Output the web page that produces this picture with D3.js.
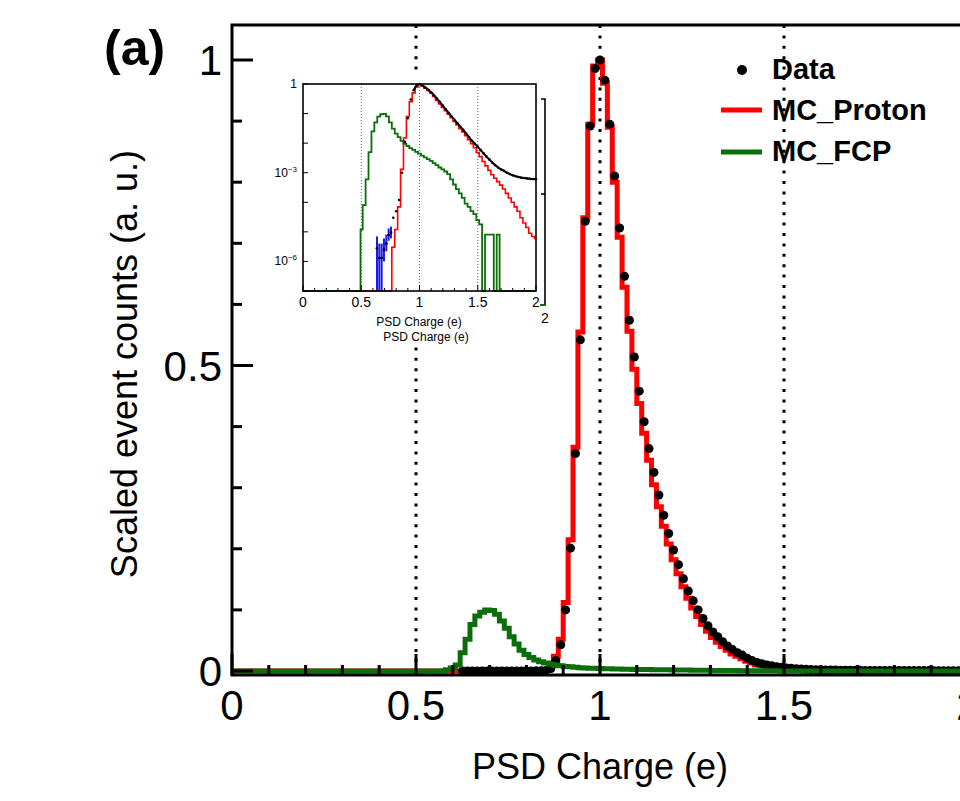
<!DOCTYPE html>
<html lang="en">
  <head>
    <meta charset="UTF-8" />
    <script src="https://d3js.org/d3.v7.min.js"></script>
    <title>PSD Charge</title>
    <style>
      body { margin: 0; background: #fff; }
      text { font-family: "Liberation Sans", Arial, Helvetica, sans-serif; }
    </style>
  </head>
  <body>
    <script>
      // main histogram: 150 bins over 0-2, one centred on charge 1.0
      const binWidth = 0.04 / 3;
      const firstCenter = 1 - 32 * binWidth;

      const mainData = [
        null, null, null, null, 0.00002, 0.00001, 0.00001, 0.00002, 0.00003, 0.00003,
        0.00004, 0.00006, 0.00008, 0.0001, 0.0001, 0.0001, 0.00012, 0.00015, 0.0002, 0.0003,
        0.0005, 0.001, 0.004, 0.017, 0.043, 0.100, 0.201, 0.356, 0.542, 0.736,
        0.892, 0.986, 1.000, 0.967, 0.895, 0.810, 0.725, 0.646, 0.574, 0.514,
        0.458, 0.408, 0.364, 0.325, 0.288, 0.255, 0.225, 0.198, 0.174, 0.151,
        0.131, 0.115, 0.100, 0.086, 0.074, 0.064, 0.056, 0.048, 0.041, 0.035,
        0.030, 0.026, 0.021, 0.017, 0.014, 0.012, 0.010, 0.0085, 0.007, 0.006,
        0.0050, 0.0043, 0.0037, 0.0032, 0.0028, 0.0025, 0.0022, 0.0020, 0.0018, 0.0016,
        0.0015, 0.0014, 0.0013, 0.0012, 0.0011, 0.0011, 0.0010, 0.0010, 0.0009, 0.0009,
        0.0009, 0.0008, 0.0008, 0.0008, 0.0008, 0.0007, 0.0007, 0.0007, 0.0007, 0.0007,
        0.0006, 0.0006, 0.0006, 0.0006, 0.0006, 0.0006, 0.0006, 0.0006
      ];

      const mainRed = [
        0, 0, 0, 0, 0, 0, 0, 0, 0, 0,
        0, 0, 0, 0, 0, 0, 0, 0, 0, 0,
        0, 0.002, 0.010, 0.024, 0.052, 0.112, 0.215, 0.366, 0.555, 0.742,
        0.895, 0.990, 1.000, 0.962, 0.890, 0.800, 0.710, 0.628, 0.556, 0.494,
        0.438, 0.389, 0.345, 0.305, 0.269, 0.237, 0.208, 0.182, 0.159, 0.138,
        0.119, 0.103, 0.089, 0.076, 0.065, 0.055, 0.047, 0.040, 0.034, 0.028,
        0.024, 0.020, 0.016, 0.013, 0.010, 0.0085, 0.007, 0.0057, 0.0046, 0.0037,
        0.0030, 0.0024, 0.0019, 0.0015, 0.0012, 0.0010, 0.0008, 0.0006, 0.0005, 0.0004,
        0.0003, 0.0003, 0.0002, 0.0002, 0.0001, 0.0001, 0.0001, 0.0001, 0.00005, 0.00005,
        0, 0, 0, 0, 0, 0, 0, 0, 0, 0,
        0, 0, 0, 0, 0, 0, 0, 0
      ];

      const mainGreen = [
        0, 0.002, 0.005, 0.010, 0.030, 0.052, 0.076, 0.090, 0.096, 0.100,
        0.099, 0.093, 0.082, 0.070, 0.056, 0.044, 0.034, 0.027, 0.022, 0.018,
        0.015, 0.013, 0.011, 0.0095, 0.0085, 0.0075, 0.0068, 0.006, 0.0055, 0.005,
        0.0046, 0.0043, 0.0040, 0.0037, 0.0035, 0.0033, 0.0031, 0.0029, 0.0027, 0.0026,
        0.0025, 0.0024, 0.0023, 0.0022, 0.0021, 0.0020, 0.0019, 0.0018, 0.0017, 0.0016,
        0.0015, 0.0014, 0.0013, 0.0012, 0.0011, 0.0010, 0.0009, 0.0009, 0.0008, 0.0008,
        0.0007, 0.0006, 0.0006, 0.0005, 0.0005, 0.0004, 0.0004, 0.0003, 0.0003, 0.0002,
        0.0002, 0.0002, 0.0001, 0.0001, 0.0001, 0.0001, 0.0001, 0, 0, 0,
        0, 0, 0, 0, 0, 0, 0, 0, 0, 0,
        0, 0, 0, 0, 0, 0, 0, 0, 0, 0,
        0, 0, 0, 0, 0, 0, 0, 0
      ];

      const xTicks = [0, 0.5, 1, 1.5, 2];
      const xTickLabels = ["0", "0.5", "1", "1.5", "2"];
      const yTicks = [0, 0.5, 1];
      const yTickLabels = ["0", "0.5", "1"];
      const refLines = [0.5, 1, 1.5];

      // inset (log scale), sampled every 0.025 from 0.5 to 2.0
      const insetCharge = d3.range(61).map((i) => 0.5 + i * 0.025);
      const insetData = [
        null, null, null, null, null, null, null, null, null, null,
        null, 3e-5, 5e-5, 1.2e-4, 1.0e-3, 1.1e-2, 7e-2, 0.3, 0.62, 0.9,
        1.0, 0.88, 0.76, 0.64, 0.52, 0.41, 0.32, 0.245, 0.185, 0.14,
        0.105, 0.08, 0.061, 0.047, 0.036, 0.028, 0.021, 0.016, 0.012, 0.0095,
        0.0075, 0.0058, 0.0045, 0.0035, 0.0028, 0.0022, 0.0018, 0.0015, 0.0013, 0.00115,
        0.001, 0.0009, 0.00082, 0.00076, 0.00072, 0.00068, 0.00066, 0.00064, 0.00062, 0.00061,
        0.0006
      ];
      const insetRed = [
        0, 0, 0, 0, 0, 0, 0, 0, 0, 0,
        0, 3e-6, 1.2e-5, 7e-5, 1.3e-3, 1.5e-2, 8e-2, 0.25, 0.5, 0.8,
        1.0, 0.85, 0.72, 0.61, 0.5, 0.38, 0.28, 0.21, 0.16, 0.125,
        0.095, 0.072, 0.054, 0.041, 0.031, 0.024, 0.018, 0.013, 0.0095, 0.007,
        0.0048, 0.0035, 0.0024, 0.0017, 0.0012, 8.5e-4, 6.5e-4, 5e-4, 3.8e-4, 2.8e-4,
        2e-4, 1.4e-4, 1e-4, 7e-5, 5e-5, 3e-5, 2e-5, 1.4e-5, 9e-6, 7e-6,
        6e-6
      ];
      const insetGreen = [
        1.2e-5, 8e-5, 6e-4, 5e-3, 0.025, 0.05, 0.079, 0.095, 0.098, 0.08,
        0.05, 0.031, 0.021, 0.016, 0.012, 0.0095, 0.008, 0.0068, 0.0059, 0.0051,
        0.0044, 0.0038, 0.0033, 0.0029, 0.0025, 0.0021, 0.0018, 0.0015, 0.0013, 0.0011,
        0.0009, 6e-4, 4e-4, 2.8e-4, 2e-4, 1.4e-4, 9e-5, 7e-5, 5e-5, 4e-5,
        2.5e-5, 1.8e-5, 0, 8e-6, 8e-6, 8e-6, 0, 8e-6, 0, 0,
        0, 0, 0, 0, 0, 0, 0, 0, 0, 0,
        0
      ];
      const blueCharge = [0.635, 0.655, 0.675, 0.695, 0.715, 0.735, 0.755];
      const blueVal = [2.8e-6, 1.3e-6, 1.3e-6, 2.5e-6, 4e-6, 7.8e-6, 9.5e-6];
      const blueLow = [1e-7, 1e-7, 1e-7, 1e-6, 2.2e-6, 5e-6, 6e-6];
      const blueHigh = [7e-6, 4e-6, 4e-6, 6e-6, 8e-6, 1.3e-5, 1.5e-5];
      const insetYTicks = [1, 1e-1, 1e-2, 1e-3, 1e-4, 1e-5, 1e-6, 1e-7];
      const insetYLabels = [[1, "1", null], [1e-3, "10", "\u22123"], [1e-6, "10", "\u22126"]];

      const legendNames = ["Data", "MC_Proton", "MC_FCP"];

      const red = "#ff0000";
      const green = "#0a6e0a";
      const blue = "#1a1aee";

      let svg = d3
        .select("body")
        .append("svg")
        .attr("width", 960)
        .attr("height", 801)
        .style("display", "block");

      svg.append("rect").attr("width", 960).attr("height", 801).attr("fill", "#fff");

      let x = d3.scaleLinear().domain([0, 2]).range([232, 968]);
      let y = d3.scaleLinear().domain([0, 1]).range([671, 60]);
      const frameTop = 25,
        frameBottom = 675;

      // reference lines
      svg
        .selectAll("line.ref")
        .data(refLines)
        .enter()
        .append("line")
        .attr("class", "ref")
        .attr("x1", (d) => x(d))
        .attr("x2", (d) => x(d))
        .attr("y1", frameTop)
        .attr("y2", frameBottom)
        .attr("stroke", "#000")
        .attr("stroke-width", 3)
        .attr("stroke-dasharray", "3,7.4");

      function stepPoints(vals, c0, w, xEnd) {
        let pts = [
          [0, 0],
          [c0 - w / 2, 0],
        ];
        vals.forEach((v, i) => {
          let c = c0 + i * w;
          pts.push([c - w / 2, v], [c + w / 2, v]);
        });
        let last = c0 + (vals.length - 1) * w + w / 2;
        pts.push([last, 0], [xEnd, 0]);
        return pts;
      }

      let mainLine = d3
        .line()
        .x((d) => x(d[0]))
        .y((d) => y(d[1]));

      svg
        .append("path")
        .attr("d", mainLine(stepPoints(mainRed, firstCenter, binWidth, 2.2)))
        .attr("fill", "none")
        .attr("stroke", red)
        .attr("stroke-width", 5);

      let dataPts = mainData
        .map((v, i) => [firstCenter + i * binWidth, v])
        .filter((d) => d[1] !== null);

      svg
        .selectAll("circle.data")
        .data(dataPts)
        .enter()
        .append("circle")
        .attr("class", "data")
        .attr("cx", (d) => x(d[0]))
        .attr("cy", (d) => y(d[1]))
        .attr("r", 4.5)
        .attr("fill", "#000");

      svg
        .append("path")
        .attr("d", mainLine(stepPoints(mainGreen, firstCenter, binWidth, 2.2)))
        .attr("fill", "none")
        .attr("stroke", green)
        .attr("stroke-width", 5);

      // frame
      svg
        .append("path")
        .attr("d", `M965,${frameTop}H232V${frameBottom}H965`)
        .attr("fill", "none")
        .attr("stroke", "#000")
        .attr("stroke-width", 3);

      // x ticks
      let xMinor = d3.range(21).map((i) => i * 0.1);
      svg
        .selectAll("line.xt")
        .data(xMinor)
        .enter()
        .append("line")
        .attr("x1", (d) => x(d))
        .attr("x2", (d) => x(d))
        .attr("y1", frameBottom)
        .attr("y2", (d, i) => frameBottom - (i % 5 === 0 ? 21 : 10))
        .attr("stroke", "#000")
        .attr("stroke-width", 3);

      svg
        .selectAll("text.xl")
        .data(xTicks)
        .enter()
        .append("text")
        .attr("x", (d) => x(d))
        .attr("y", 720)
        .attr("text-anchor", "middle")
        .attr("font-size", 42)
        .text((d, i) => xTickLabels[i]);

      // y ticks
      let yMinor = d3.range(11).map((i) => i * 0.1);
      svg
        .selectAll("line.yt")
        .data(yMinor)
        .enter()
        .append("line")
        .attr("y1", (d) => y(d))
        .attr("y2", (d) => y(d))
        .attr("x1", 232)
        .attr("x2", (d, i) => 232 + (i % 5 === 0 ? 21 : 10))
        .attr("stroke", "#000")
        .attr("stroke-width", 3);

      svg
        .selectAll("text.yl")
        .data(yTicks)
        .enter()
        .append("text")
        .attr("x", 222)
        .attr("y", (d) => y(d) + 15)
        .attr("text-anchor", "end")
        .attr("font-size", 42)
        .text((d, i) => yTickLabels[i]);

      svg
        .append("text")
        .attr("x", 600)
        .attr("y", 779)
        .attr("text-anchor", "middle")
        .attr("font-size", 36)
        .text("PSD Charge (e)");

      svg
        .append("text")
        .attr("transform", "translate(137,364) rotate(-90)")
        .attr("text-anchor", "middle")
        .attr("font-size", 36)
        .text("Scaled event counts (a. u.)");

      svg
        .append("text")
        .attr("x", 104)
        .attr("y", 65)
        .attr("font-size", 50)
        .attr("font-weight", "bold")
        .text("(a)");

      // legend
      let leg = svg.append("g");
      leg.append("circle").attr("cx", 742).attr("cy", 70).attr("r", 5).attr("fill", "#000");
      leg.append("line").attr("x1", 721).attr("x2", 762).attr("y1", 110).attr("y2", 110)
        .attr("stroke", red).attr("stroke-width", 5);
      leg.append("line").attr("x1", 721).attr("x2", 762).attr("y1", 152).attr("y2", 152)
        .attr("stroke", green).attr("stroke-width", 5);
      leg
        .selectAll("text")
        .data(legendNames)
        .enter()
        .append("text")
        .attr("x", 772)
        .attr("y", (d, i) => 79 + i * 41)
        .attr("font-size", 29)
        .attr("font-weight", "bold")
        .text((d) => d);

      // ---------- inset ----------
      svg.append("rect").attr("x", 249).attr("y", 74).attr("width", 304).attr("height", 271).attr("fill", "#fff");

      let ix = d3.scaleLinear().domain([0, 2]).range([303, 536]);
      let iy = d3.scaleLog().domain([1e-7, 1]).range([291, 84]);
      const floorV = (v) => (v > 1e-7 ? v : 1e-7);

      let inset = svg.append("g");
      inset
        .selectAll("line.iref")
        .data(refLines)
        .enter()
        .append("line")
        .attr("x1", (d) => ix(d))
        .attr("x2", (d) => ix(d))
        .attr("y1", 84)
        .attr("y2", 291)
        .attr("stroke", "#444")
        .attr("stroke-width", 0.8)
        .attr("stroke-dasharray", "1,2");

      let insetLine = d3
        .line()
        .curve(d3.curveStep)
        .x((d) => ix(d[0]))
        .y((d) => iy(floorV(d[1])));

      function insetPts(vals) {
        let pts = [[0, 0], [insetCharge[0] - 0.0125, 0]];
        vals.forEach((v, i) => pts.push([insetCharge[i], v]));
        pts.push([2, vals[vals.length - 1]]);
        return pts;
      }

      inset
        .append("path")
        .attr("d", insetLine(insetPts(insetRed)))
        .attr("fill", "none")
        .attr("stroke", red)
        .attr("stroke-width", 1.6);

      inset
        .append("path")
        .attr("d", insetLine(insetPts(insetGreen)))
        .attr("fill", "none")
        .attr("stroke", green)
        .attr("stroke-width", 1.8);

      let blackPts = insetData
        .map((v, i) => [insetCharge[i], v])
        .filter((d) => d[1] !== null);
      inset
        .append("path")
        .attr("d", d3.line().x((d) => ix(d[0])).y((d) => iy(d[1]))(blackPts.filter((d) => d[0] >= 0.95)))
        .attr("fill", "none")
        .attr("stroke", "#000")
        .attr("stroke-width", 2);
      inset
        .selectAll("circle.id")
        .data(blackPts)
        .enter()
        .append("circle")
        .attr("cx", (d) => ix(d[0]))
        .attr("cy", (d) => iy(d[1]))
        .attr("r", 1.3)
        .attr("fill", "#000");

      blueCharge.forEach((c, i) => {
        inset.append("line")
          .attr("x1", ix(c)).attr("x2", ix(c))
          .attr("y1", iy(blueLow[i])).attr("y2", iy(blueHigh[i]))
          .attr("stroke", blue).attr("stroke-width", 2);
        inset.append("line")
          .attr("x1", ix(c - 0.01)).attr("x2", ix(c + 0.01))
          .attr("y1", iy(blueVal[i])).attr("y2", iy(blueVal[i]))
          .attr("stroke", blue).attr("stroke-width", 2);
        inset.append("circle")
          .attr("cx", ix(c)).attr("cy", iy(blueVal[i])).attr("r", 1.3).attr("fill", "#000");
      });

      inset
        .append("rect")
        .attr("x", 303)
        .attr("y", 84)
        .attr("width", 233)
        .attr("height", 207)
        .attr("fill", "none")
        .attr("stroke", "#000")
        .attr("stroke-width", 1.6);

      inset
        .selectAll("line.ixt")
        .data(d3.range(21).map((i) => i * 0.1))
        .enter()
        .append("line")
        .attr("x1", (d) => ix(d))
        .attr("x2", (d) => ix(d))
        .attr("y1", 291)
        .attr("y2", (d, i) => 291 - (i % 5 === 0 ? 6 : 3))
        .attr("stroke", "#000")
        .attr("stroke-width", 1);

      inset
        .selectAll("line.iyt")
        .data(insetYTicks)
        .enter()
        .append("line")
        .attr("x1", 303)
        .attr("x2", 308)
        .attr("y1", (d) => iy(d))
        .attr("y2", (d) => iy(d))
        .attr("stroke", "#000")
        .attr("stroke-width", 1);

      inset
        .selectAll("text.ixl")
        .data(xTicks)
        .enter()
        .append("text")
        .attr("x", (d) => ix(d))
        .attr("y", 307)
        .attr("text-anchor", "middle")
        .attr("font-size", 14)
        .text((d, i) => xTickLabels[i]);

      insetYLabels.forEach((l) => {
        let t = inset
          .append("text")
          .attr("x", 297)
          .attr("y", iy(l[0]) + 4)
          .attr("text-anchor", "end")
          .attr("font-size", 12);
        t.append("tspan").text(l[1]);
        if (l[2]) t.append("tspan").attr("dy", -5).attr("font-size", 8).text(l[2]);
      });

      inset.append("text").attr("x", 419).attr("y", 326).attr("text-anchor", "middle")
        .attr("font-size", 12).text("PSD Charge (e)");
      inset.append("text").attr("x", 426).attr("y", 341).attr("text-anchor", "middle")
        .attr("font-size", 12).text("PSD Charge (e)");

      // overlapping second frame edge
      inset.append("path").attr("d", "M541,99H545V305H540").attr("fill", "none")
        .attr("stroke", "#000").attr("stroke-width", 1.6);
      inset.append("line").attr("x1", 540).attr("x2", 545).attr("y1", 305).attr("y2", 305)
        .attr("stroke", green).attr("stroke-width", 1.6);
      inset.append("line").attr("x1", 541).attr("x2", 545).attr("y1", 194).attr("y2", 194)
        .attr("stroke", "#000").attr("stroke-width", 1.6);
      inset.append("text").attr("x", 545).attr("y", 323).attr("text-anchor", "middle")
        .attr("font-size", 14).text("2");
    </script>
  </body>
</html>
